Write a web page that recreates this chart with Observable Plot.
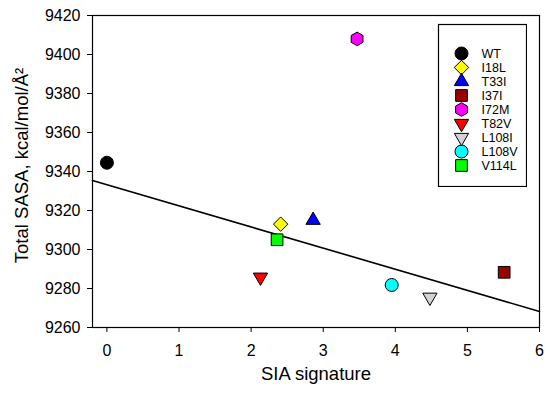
<!DOCTYPE html>
<html>
<head>
<meta charset="utf-8">
<script src="https://cdn.jsdelivr.net/npm/d3@7"></script>
<script src="https://cdn.jsdelivr.net/npm/@observablehq/plot@0.6"></script>
<style>
  html, body { margin: 0; padding: 0; background: #fff; }
  #wrap { position: relative; width: 550px; height: 397px; font-family: Arial, "Liberation Sans", sans-serif; }
  #legend { position: absolute; left: 437px; top: 23px; }
</style>
</head>
<body>
<div id="wrap"><div id="chart"></div><div id="legend"></div></div>
<script>
// ---- data ----
const names  = ["WT", "I18L", "T33I", "I37I", "I72M", "T82V", "L108I", "L108V", "V114L"];
const siaSig = [0, 2.41, 2.86, 5.51, 3.47, 2.13, 4.48, 3.95, 2.36];
const sasa   = [9344.5, 9313, 9315, 9288.3, 9408, 9285.8, 9275.5, 9281.8, 9305];
const fitX   = [-0.2, 6];
const fitY   = [9335.4, 9268.2];
const xTicks = [0, 1, 2, 3, 4, 5, 6];
const yTicks = [9260, 9280, 9300, 9320, 9340, 9360, 9380, 9400, 9420];

// ---- styles ----
const colors = ["#000000", "#ffff00", "#0000ff", "#990000", "#ff00ff", "#ff0000", "#d3d3d3", "#00ffff", "#00ff00"];
const s3 = Math.sqrt(3);
const triDown = {
  draw(ctx, size) {
    const y = Math.sqrt(size / (s3 * 3));
    ctx.moveTo(0, 2 * y);
    ctx.lineTo(s3 * y, -y);
    ctx.lineTo(-s3 * y, -y);
    ctx.closePath();
  }
};
const symbols = ["circle", "diamond2", "triangle", "square", "hexagon", triDown, triDown, "circle", "square"];
const radii   = [6.5, 6.5, 5.3, 6.6, 5.9, 5.3, 5.3, 6.5, 6.6];

const pts = names.map((n, i) => ({name: n, x: siaSig[i], y: sasa[i], i}));
const fit = fitX.map((x, i) => ({x, y: fitY[i]}));

const font = "Arial, 'Liberation Sans', sans-serif";

const chart = Plot.plot({
  width: 550,
  height: 397,
  marginLeft: 92,
  marginRight: 11,
  marginTop: 15,
  marginBottom: 70,
  style: {fontFamily: font, fontSize: "16px", color: "#000", background: "#fff"},
  x: {domain: [-0.2, 6], ticks: xTicks, tickSize: 5, tickPadding: 12, label: null, tickFormat: d3.format("d")},
  y: {domain: [9260, 9420], ticks: yTicks, tickSize: 5, tickPadding: 7, label: null, tickFormat: d3.format("d")},
  r: {type: "identity"},
  symbol: {domain: names, range: symbols},
  color: {domain: names, range: colors},
  marks: [
    Plot.frame({stroke: "#000", strokeWidth: 1.2}),
    Plot.line(fit, {x: "x", y: "y", stroke: "#000", strokeWidth: 1.6}),
    Plot.dot(pts, {x: "x", y: "y", symbol: "name", fill: "name", stroke: "#000", strokeWidth: 1, r: d => radii[d.i]}),
    Plot.text(["SIA signature"], {frameAnchor: "bottom", textAnchor: "middle", dy: 52.5, fontSize: 18.5, fill: "#000"}),
    Plot.text(["Total SASA, kcal/mol/Å²"], {frameAnchor: "left", textAnchor: "middle", dx: -70, dy: -6, rotate: -90, fontSize: 18.5, fill: "#000"})
  ]
});
document.getElementById("chart").appendChild(chart);

const legend = Plot.plot({
  width: 90,
  height: 164,
  margin: 0,
  style: {fontFamily: font, fontSize: "12.5px", color: "#000", background: "transparent"},
  y: {type: "point", domain: names, range: [19.5, 151.5], axis: null},
  r: {type: "identity"},
  symbol: {domain: names, range: symbols},
  color: {domain: names, range: colors},
  marks: [
    Plot.frame({stroke: "#000", strokeWidth: 1.2, inset: 1, fill: "#fff"}),
    Plot.dot(pts, {y: "name", frameAnchor: "left", dx: 24, symbol: "name", fill: "name", stroke: "#000", strokeWidth: 1, r: d => radii[d.i]}),
    Plot.text(pts, {y: "name", text: "name", frameAnchor: "left", dx: 44, textAnchor: "start", fill: "#000", fontSize: 12.5})
  ]
});
document.getElementById("legend").appendChild(legend);
</script>
</body>
</html>
